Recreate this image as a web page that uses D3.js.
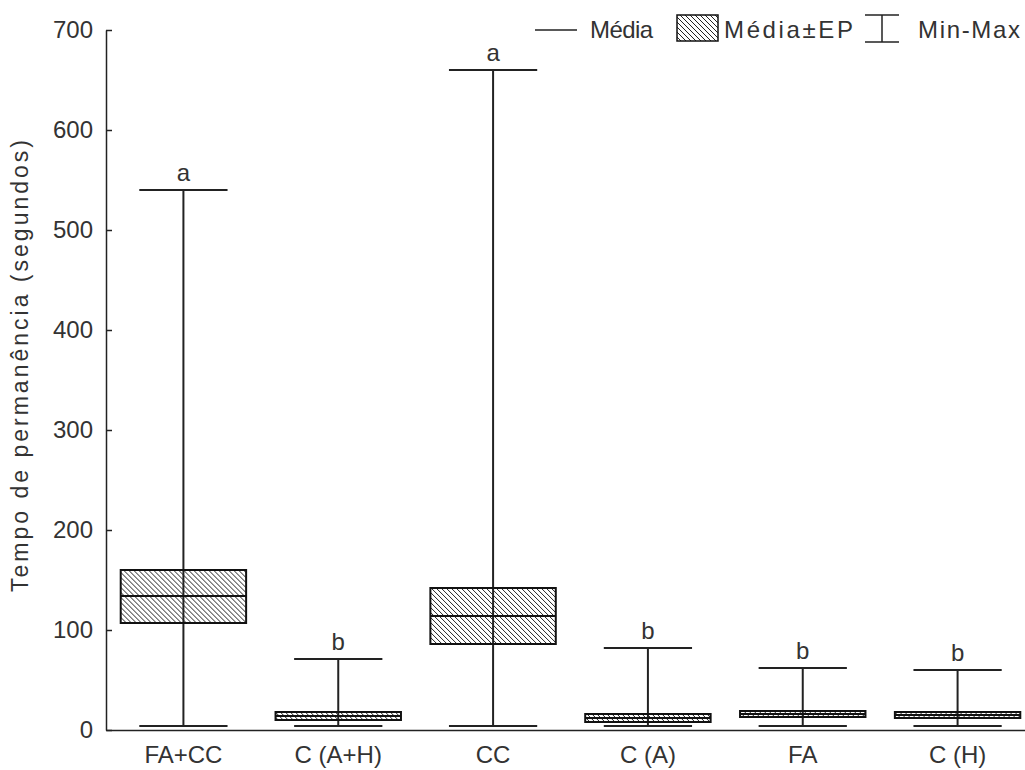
<!DOCTYPE html>
<html lang="pt">
<head>
  <meta charset="UTF-8">
  <script src="https://cdn.jsdelivr.net/npm/d3@7"></script>
  <title>Tempo de permanência</title>
  <style>
    body { margin: 0; background: #fff; }
    text { font-family: "Liberation Sans", Arial, sans-serif; fill: #333; }
  </style>
</head>
<body>
  <svg width="1025" height="770" id="chart"></svg>
  <script>
  // data
  const categories = ["FA+CC", "C (A+H)", "CC", "C (A)", "FA", "C (H)"];
  const means  = [134, 14, 114, 12, 16, 15];
  const seLow  = [107, 10, 86, 8, 13, 12];
  const seHigh = [160, 18, 142, 16, 19, 18];
  const mins   = [4, 4, 4, 4, 4, 4];
  const maxs   = [540, 71, 660, 82, 62, 60];
  const letters = ["a", "b", "a", "b", "b", "b"];
  const yTicks = [0, 100, 200, 300, 400, 500, 600, 700];

  let svg = d3.select("#chart");

  // hatch for the Média±EP boxes
  svg.append("defs").append("pattern")
    .attr("id", "hatch")
    .attr("patternUnits", "userSpaceOnUse")
    .attr("width", 5).attr("height", 5)
    .append("path")
    .attr("d", "M-1,-1 L6,6 M-1,4 L1,6 M4,-1 L6,1")
    .attr("stroke", "#222").attr("stroke-width", 1);

  /* SCALES */
  let x = d3.scaleBand().domain(categories).range([106, 1035]);
  let y = d3.scaleLinear().domain([0, 700]).range([730, 30]);
  let bw = x.bandwidth();
  let boxW = bw * 0.81, capW = bw * 0.57;

  /* AXES */
  let axisY = d3.axisLeft(y).tickValues(yTicks).tickSizeInner(-6).tickSizeOuter(0).tickPadding(13);
  let gy = svg.append("g").attr("transform", "translate(106,0)").call(axisY);
  gy.selectAll("text").style("font-size", "24px").attr("fill", "#333");
  gy.selectAll("line, path").attr("stroke", "#222").attr("stroke-width", 1.5);

  let axisX = d3.axisBottom(x).tickSize(0).tickPadding(16);
  let gx = svg.append("g").attr("transform", "translate(0,730)").call(axisX);
  gx.selectAll("text").style("font-size", "24px").attr("fill", "#333");
  gx.select("path").attr("stroke", "#222").attr("stroke-width", 1.5);

  // axis title
  svg.append("text")
    .attr("transform", "translate(28,366) rotate(-90)")
    .attr("text-anchor", "middle")
    .attr("textLength", 452).attr("lengthAdjust", "spacing")
    .style("font-size", "23px")
    .text("Tempo de permanência (segundos)");

  /* BOXES */
  let data = categories.map((c, i) => ({
    cat: c, mean: means[i], lo: seLow[i], hi: seHigh[i], min: mins[i], max: maxs[i], letter: letters[i]
  }));

  let g = svg.append("g").selectAll("g").data(data).enter().append("g")
    .attr("transform", d => `translate(${x(d.cat) + bw / 2},0)`);

  // whisker
  g.append("line")
    .attr("x1", 0).attr("x2", 0)
    .attr("y1", d => y(d.min)).attr("y2", d => y(d.max))
    .attr("stroke", "#222").attr("stroke-width", 2);
  g.append("line")
    .attr("x1", -capW / 2).attr("x2", capW / 2)
    .attr("y1", d => y(d.max)).attr("y2", d => y(d.max))
    .attr("stroke", "#222").attr("stroke-width", 2);
  g.append("line")
    .attr("x1", -capW / 2).attr("x2", capW / 2)
    .attr("y1", d => y(d.min)).attr("y2", d => y(d.min))
    .attr("stroke", "#222").attr("stroke-width", 2);

  // box
  g.append("rect")
    .attr("x", -boxW / 2).attr("width", boxW)
    .attr("y", d => y(d.hi)).attr("height", d => y(d.lo) - y(d.hi))
    .attr("fill", "url(#hatch)")
    .attr("stroke", "#111").attr("stroke-width", 2);
  g.append("line")
    .attr("x1", -boxW / 2).attr("x2", boxW / 2)
    .attr("y1", d => y(d.mean)).attr("y2", d => y(d.mean))
    .attr("stroke", "#111").attr("stroke-width", 2);

  // significance letters
  g.append("text")
    .attr("y", d => y(d.max) - 9)
    .attr("text-anchor", "middle")
    .style("font-size", "24px")
    .text(d => d.letter);

  /* LEGEND */
  let leg = svg.append("g");
  leg.append("line").attr("x1", 535).attr("x2", 577).attr("y1", 30).attr("y2", 30)
    .attr("stroke", "#222").attr("stroke-width", 1.5);
  leg.append("text").attr("x", 590).attr("y", 38).style("font-size", "24px")
    .attr("textLength", 63).attr("lengthAdjust", "spacing").text("Média");
  leg.append("rect").attr("x", 677).attr("y", 15).attr("width", 41).attr("height", 26)
    .attr("fill", "url(#hatch)").attr("stroke", "#111").attr("stroke-width", 1.5);
  leg.append("text").attr("x", 724).attr("y", 38).style("font-size", "24px")
    .attr("textLength", 129).attr("lengthAdjust", "spacing").text("Média±EP");
  leg.append("line").attr("x1", 865).attr("x2", 899).attr("y1", 15).attr("y2", 15)
    .attr("stroke", "#222").attr("stroke-width", 1.5);
  leg.append("line").attr("x1", 882).attr("x2", 882).attr("y1", 15).attr("y2", 42)
    .attr("stroke", "#222").attr("stroke-width", 1.5);
  leg.append("line").attr("x1", 865).attr("x2", 899).attr("y1", 42).attr("y2", 42)
    .attr("stroke", "#222").attr("stroke-width", 1.5);
  leg.append("text").attr("x", 918).attr("y", 38).style("font-size", "24px")
    .attr("textLength", 102).attr("lengthAdjust", "spacing").text("Min-Max");
  </script>
</body>
</html>
